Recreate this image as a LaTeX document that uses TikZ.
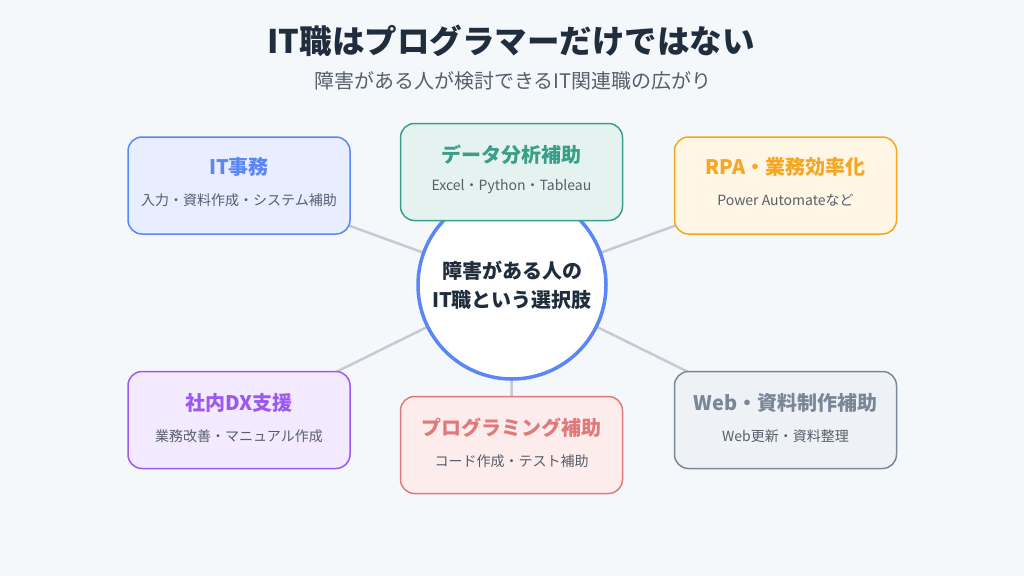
\documentclass[tikz,border=0pt]{standalone}
\usepackage{fontspec}
\setmainfont{Noto Sans CJK JP}
\begin{document}
\begin{tikzpicture}[x=1pt,y=-1pt,
 box/.style={draw,rounded corners=14pt,line width=1.5pt,minimum width=222pt,minimum height=97pt},
 ttl/.style={font=\fontsize{20}{23}\selectfont\bfseries},
 sub/.style={font=\fontsize{14}{17}\selectfont,text=subc},
 conn/.style={draw=linec,line width=2.5pt}]
\definecolor{bg}{HTML}{F5F8FB}
\definecolor{dark}{HTML}{1F2D3D}
\definecolor{subc}{HTML}{555F6B}
\definecolor{linec}{HTML}{C5CBD3}
\definecolor{blueB}{HTML}{5B86F5}\definecolor{blueF}{HTML}{E8EEFF}
\definecolor{tealB}{HTML}{3A9E8A}\definecolor{tealF}{HTML}{E4F3EF}
\definecolor{oraB}{HTML}{F5A623}\definecolor{oraF}{HTML}{FFF6E5}
\definecolor{purB}{HTML}{9B59F0}\definecolor{purF}{HTML}{F3EAFF}
\definecolor{redB}{HTML}{E07A7A}\definecolor{redF}{HTML}{FDECEC}
\definecolor{grB}{HTML}{7A8799}\definecolor{grF}{HTML}{EEF1F5}
\fill[bg] (0,0) rectangle (1024,576);
\useasboundingbox (0,0) rectangle (1024,576);
\node[font=\fontsize{32.5}{38}\selectfont\bfseries,text=dark] (title) at (511,41) {IT職はプログラマーだけではない};
\node[font=\fontsize{20}{24}\selectfont,text=subc] (subtitle) at (513,81) {障害がある人が検討できるIT関連職の広がり};
\coordinate (c) at (512,285);
\coordinate (p1) at (239,185.5);
\coordinate (p2) at (511.5,172);
\coordinate (p3) at (785.5,185.5);
\coordinate (p4) at (239,420);
\coordinate (p5) at (511.5,445);
\coordinate (p6) at (785.5,420);
\foreach \p in {p1,p2,p3,p4,p5,p6} \draw[conn] (c) -- (\p);
\node[circle,draw=blueB,fill=white,line width=3.5pt,minimum size=188pt,align=center,font=\fontsize{20}{29}\selectfont\bfseries,text=dark] (center) at (c) {障害がある人の\\IT職という選択肢};
\node[box,draw=blueB,fill=blueF] (b1) at (p1) {};
\node[box,draw=tealB,fill=tealF] (b2) at (p2) {};
\node[box,draw=oraB,fill=oraF] (b3) at (p3) {};
\node[box,draw=purB,fill=purF] (b4) at (p4) {};
\node[box,draw=redB,fill=redF] (b5) at (p5) {};
\node[box,draw=grB,fill=grF] (b6) at (p6) {};
\node[ttl,text=blueB] (t1) at (239,167) {IT事務};
\node[sub] (s1) at (239,200) {入力・資料作成・システム補助};
\node[ttl,text=tealB] (t2) at (511.5,155) {データ分析補助};
\node[sub] (s2) at (511.5,187) {Excel・Python・Tableau};
\node[ttl,text=oraB] (t3) at (785.5,167) {RPA・業務効率化};
\node[sub] (s3) at (785.5,200) {Power Automateなど};
\node[ttl,text=purB] (t4) at (239,403) {社内DX支援};
\node[sub] (s4) at (239,436) {業務改善・マニュアル作成};
\node[ttl,text=redB] (t5) at (511.5,428) {プログラミング補助};
\node[sub] (s5) at (511.5,461) {コード作成・テスト補助};
\node[ttl,text=grB] (t6) at (785.5,403) {Web・資料制作補助};
\node[sub] (s6) at (785.5,436) {Web更新・資料整理};
\end{tikzpicture}
\end{document}
